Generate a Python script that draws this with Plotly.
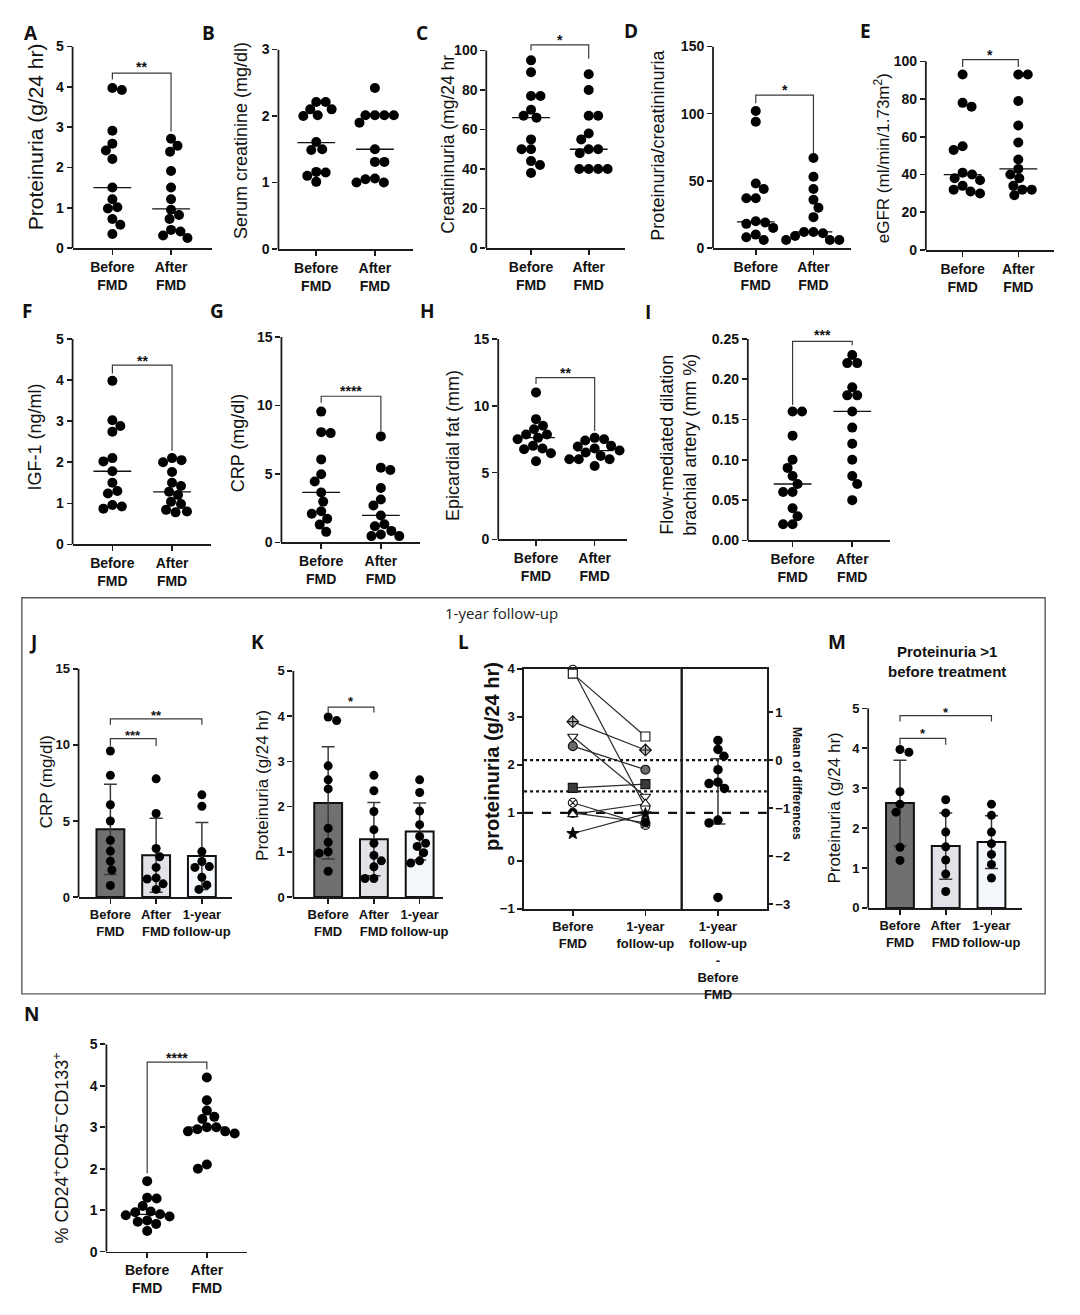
import plotly.graph_objects as go
import numpy as np

W, H = 1080, 1315

# ---------------------------------------------------------------- data
cats2 = ["Before<br>FMD", "After<br>FMD"]
cats3 = ["Before<br>FMD", "After<br>FMD", "1-year<br>follow-up"]
catsL = ["Before<br>FMD", "1-year<br>follow-up",
         "1-year<br>follow-up<br>-<br>Before<br>FMD"]

A_before = [3.92, 3.97, 2.91, 2.59, 2.42, 2.21, 1.5, 1.21, 1.01, 0.98, 0.72, 0.58, 0.35]
A_after = [2.71, 2.54, 2.39, 1.91, 1.5, 1.21, 0.95, 0.82, 0.72, 0.45, 0.41, 0.31, 0.25]
A_median = [1.5, 0.97]

B_before = [2.21, 2.21, 2.1, 2.1, 2.01, 2.0, 1.61, 1.49, 1.5, 1.15, 1.16, 1.1, 1.01]
B_after = [2.42, 2.01, 2.01, 2.01, 2.01, 1.9, 1.5, 1.31, 1.31, 1.0, 1.06, 1.0, 1.05]
B_median = [1.6, 1.5]

C_before = [95, 89, 77, 77, 70, 67, 66, 55, 50, 50, 44, 42, 38]
C_after = [88, 80, 67, 67, 58, 55, 50, 48, 50, 40, 40, 40, 40]
C_median = [66, 50]

D_before = [102, 94, 48, 44, 37, 37, 20, 19, 18, 15, 10, 8, 6]
D_after = [67, 53, 44, 36, 30, 23, 12, 12, 11, 9, 6, 6, 6]
D_median = [19.5, 12]

E_before = [93, 78, 76, 55, 53, 41, 40, 38, 37, 34, 32, 31, 30]
E_after = [93, 93, 79, 66, 57, 48, 43, 40, 38, 34, 32, 32, 29]
E_median = [40, 43]

F_before = [3.98, 3.02, 2.88, 2.74, 2.1, 2.02, 1.78, 1.5, 1.3, 1.24, 0.96, 0.92, 0.87]
F_after = [2.1, 2.05, 2.0, 1.76, 1.5, 1.42, 1.28, 1.2, 1.04, 0.98, 0.84, 0.8, 0.78]
F_median = [1.78, 1.28]

G_before = [9.55, 8.05, 7.98, 6.06, 4.98, 4.45, 3.65, 2.98, 2.28, 2.09, 1.73, 1.3, 0.77]
G_after = [7.74, 5.46, 5.29, 3.97, 3.13, 2.69, 1.97, 1.32, 1.18, 0.84, 0.58, 0.46, 0.46]
G_median = [3.65, 1.97]

H_before = [11.0, 9.0, 8.5, 8.25, 7.85, 7.85, 7.6, 7.5, 7.0, 6.8, 6.75, 6.45, 5.85]
H_after = [7.6, 7.5, 7.4, 7.0, 6.95, 6.8, 6.65, 6.5, 6.25, 6.0, 6.0, 6.0, 5.5]
H_median = [7.62, 6.64]

I_before = [0.16, 0.16, 0.13, 0.10, 0.09, 0.08, 0.07, 0.06, 0.06, 0.04, 0.03, 0.02, 0.02]
I_after = [0.23, 0.22, 0.22, 0.19, 0.18, 0.18, 0.16, 0.14, 0.12, 0.10, 0.08, 0.07, 0.05]
I_median = [0.07, 0.16]

N_before = [1.7, 1.3, 1.28, 1.1, 0.97, 0.95, 0.9, 0.88, 0.85, 0.75, 0.72, 0.67, 0.5]
N_after = [4.2, 3.65, 3.4, 3.25, 3.2, 3.0, 3.0, 2.95, 2.9, 2.9, 2.85, 2.1, 2.0]
N_median = [0.9, 3.0]

J_before = [9.6, 8.0, 6.07, 5.0, 3.73, 3.02, 2.36, 1.78, 0.76]
J_after = [7.77, 5.49, 3.19, 2.65, 1.95, 1.26, 1.19, 0.87, 0.5]
J_1yr = [6.72, 5.97, 2.99, 2.34, 2.0, 1.95, 1.3, 0.8, 0.5]
J_mean = [4.45, 2.75, 2.7]
J_sd = [2.97, 2.43, 2.2]

L_before = [3.98, 3.9, 2.9, 2.59, 2.39, 1.52, 1.21, 1.0, 0.97, 0.57]
L_1yr = [1.12, 2.59, 2.31, 1.34, 1.9, 1.6, 0.75, 0.8, 1.19, 0.98]
L_ref_mean = 2.1        # mean of "Before FMD" -> zero of the right axis
L_diff_mean = -0.65
L_diff_ci = 0.68
L_threshold = 1.0

K_before = L_before
K_after = [2.69, 2.35, 1.89, 1.49, 1.19, 0.92, 0.8, 0.67, 0.41, 0.41]
K_1yr = L_1yr
K_mean = [2.08, 1.28, 1.45]
K_sd = [1.24, 0.81, 0.63]

M_before = [3.97, 3.9, 2.91, 2.6, 2.4, 1.52, 1.19]
M_after = [2.71, 2.38, 1.9, 1.53, 1.2, 0.85, 0.41]
M_1yr = [2.6, 2.32, 1.9, 1.61, 1.34, 1.09, 0.75]
M_mean = [2.63, 1.55, 1.65]
M_sd = [1.07, 0.83, 0.66]

# significance brackets: (group0, group1, top, leg0 end, leg1 end, label, label y)
A_sig = [(0, 1, 4.34, 4.18, 2.89, "**", 4.57)]
C_sig = [(0, 1, 102.8, 100, 95.8, "*", 107)]
D_sig = [(0, 1, 113.8, 107.7, 70.8, "*", 120)]
E_sig = [(0, 1, 100.9, 97, 97, "*", 105)]
F_sig = [(0, 1, 4.36, 4.16, 2.28, "**", 4.54)]
G_sig = [(0, 1, 10.67, 10.2, 8.1, "****", 11.27)]
H_sig = [(0, 1, 12.1, 11.63, 8.11, "**", 12.7)]
I_sig = [(0, 1, 0.247, 0.168, 0.242, "***", 0.258)]
N_sig = [(0, 1, 4.57, 1.89, 4.39, "****", 4.75)]
J_sig = [(0, 1, 10.41, 9.93, 9.93, "***", 10.8), (0, 2, 11.71, 11.32, 11.32, "**", 12.15)]
K_sig = [(0, 1, 4.2, 4.08, 4.08, "*", 4.38)]
M_sig = [(0, 1, 4.25, 4.09, 4.09, "*", 4.45), (0, 2, 4.82, 4.67, 4.67, "*", 4.97)]

# ---------------------------------------------------------------- helpers
FONT = "Liberation Sans, Arial, sans-serif"
LFONT = "Open Sans, Liberation Sans, sans-serif"
AX = "#1c1c1c"
BAR_COLORS = ["#707070", "#e2e3e8", "#f4f7fc"]

fig = go.Figure()
lay = {}
shapes = []
annots = []


def fx(px):
    return px / W


def fy(py):
    return 1 - py / H


def ids(i):
    return ("x" if i == 1 else f"x{i}"), ("y" if i == 1 else f"y{i}")


def keyname(a, i):
    return a + ("axis" if i == 1 else f"axis{i}")


def swarm(vals, ppu, d):
    order = sorted(range(len(vals)), key=lambda k: -vals[k])
    placed = []
    offs = [0.0] * len(vals)
    side = 1
    for k in order:
        y = vals[k] * ppu
        chosen = None
        n = 0
        while chosen is None:
            cands = [0.0] if n == 0 else [side * n * 0.5, -side * n * 0.5]
            for x in cands:
                if all((x - px) ** 2 + (y - py) ** 2 >= d * d - 1e-6 for px, py in placed):
                    chosen = x
                    break
            n += 1
        if chosen > 0:
            side = -1
        elif chosen < 0:
            side = 1
        placed.append((chosen, y))
        offs[k] = chosen
    return offs


def setup(i, xl, xr, xc, y0, yT, T, R, ymin, ytick, xtext, fs, yfmt=None, yline=True):
    xs, ys = ids(i)
    sp = xc[1] - xc[0]
    ppu = (y0 - yT) / (T - ymin)
    top_px = y0 - (R - ymin) * ppu
    tf = dict(family=FONT, size=fs, color="#111", weight="bold")
    lay[keyname("x", i)] = dict(
        domain=[fx(xl), fx(xr)], range=[(xl - xc[0]) / sp, (xr - xc[0]) / sp],
        anchor=ys, tickvals=list(range(len(xtext))), ticktext=xtext, tickangle=0,
        showline=True, linewidth=1.8, linecolor=AX, ticks="outside", ticklen=5,
        tickwidth=1.6, tickcolor=AX, tickfont=tf, showgrid=False, zeroline=False,
        fixedrange=True)
    ya = dict(domain=[fy(y0), fy(top_px)], range=[ymin, R], anchor=xs,
              tickvals=ytick, ticks="outside", ticklen=5, tickwidth=1.6,
              tickcolor=AX, showline=False, showgrid=False, zeroline=False,
              tickfont=tf, fixedrange=True)
    if yfmt:
        ya["tickformat"] = yfmt
    lay[keyname("y", i)] = ya
    if yline:
        shapes.append(dict(type="line", xref=xs + " domain", yref=ys, x0=0, x1=0,
                           y0=ymin, y1=T, line=dict(color=AX, width=1.8)))
    return xs, ys, sp, ppu


def dots(xs, ys, g, vals, ppu, sp, d=9.0, size=9.5):
    offs = swarm(vals, ppu, d)
    fig.add_trace(go.Scatter(
        x=[g + o / sp for o in offs], y=vals, mode="markers",
        marker=dict(size=size, color="black"), xaxis=xs, yaxis=ys,
        cliponaxis=False, hoverinfo="skip", showlegend=False))


def median(xs, ys, g, m, hw):
    fig.add_trace(go.Scatter(x=[g - hw, g + hw], y=[m, m], mode="lines",
                             line=dict(color="#111", width=1.3), xaxis=xs, yaxis=ys,
                             hoverinfo="skip", showlegend=False))


def sig(xs, ys, items, fs=14):
    for g0, g1, top, l0, l1, lab, ly in items:
        shapes.append(dict(type="path", xref=xs, yref=ys,
                           path=f"M {g0},{l0} L {g0},{top} L {g1},{top} L {g1},{l1}",
                           line=dict(color="#3a3a3a", width=1.2)))
        annots.append(dict(x=(g0 + g1) / 2, y=ly, xref=xs, yref=ys, text=lab,
                           showarrow=False, yanchor="middle", yshift=-3,
                           font=dict(family=FONT, size=fs, color="#111", weight="bold")))


def ytitle(text, px, py, size, bold=False):
    annots.append(dict(x=fx(px), y=fy(py), xref="paper", yref="paper", text=text,
                       textangle=-90, showarrow=False, xanchor="center", yanchor="middle",
                       font=dict(family=FONT, size=size, color="#111",
                                 weight="bold" if bold else "normal")))


def letter(t, px, py):
    annots.append(dict(x=fx(px), y=fy(py), xref="paper", yref="paper", text=t,
                       showarrow=False, xanchor="center", yanchor="middle",
                       font=dict(family=LFONT, size=19, color="#111", weight="bold")))


# ---------------------------------------------------------------- scatter panels
scatter_panels = [
    # i, letter, letter pos, xl, xr, xc, y0, yT, T, R, yticks, fmt, data, medians, sig, title, title x, title y, title size, fs
    (1, "A", (31, 25), 73, 213, (113, 172), 243, 39, 5, 5, [0, 1, 2, 3, 4, 5], None,
     [A_before, A_after], A_median, A_sig, "Proteinuria (g/24 hr)", 36, 130, 21, 14),
    (2, "B", (210, 25), 280, 415, (318, 377), 244, 42, 3, 3, [0, 1, 2, 3], None,
     [B_before, B_after], B_median, [], "Serum creatinine (mg/dl)", 243, 134, 18, 14),
    (3, "C", (424, 25), 489, 628, (534, 592), 243, 43, 100, 110, [0, 20, 40, 60, 80, 100], None,
     [C_before, C_after], C_median, C_sig, "Creatininuria (mg/24 hr", 451, 138, 17.5, 14),
    (4, "D", (635, 23), 717, 856, (760, 818), 243, 39, 150, 150, [0, 50, 100, 150], None,
     [D_before, D_after], D_median, D_sig, "Proteinuria/creatininuria", 662, 139, 18, 14),
    (5, "E", (870, 23), 931, 1060, (968, 1024), 245, 54, 100, 108, [0, 20, 40, 60, 80, 100], None,
     [E_before, E_after], E_median, E_sig, "eGFR (ml/min/1.73m<sup>2</sup>)", 887, 152, 17, 14),
    (6, "F", (27, 307), 73, 212, (113, 173), 543, 335, 5, 5, [0, 1, 2, 3, 4, 5], None,
     [F_before, F_after], F_median, F_sig, "IGF-1 (ng/ml)", 35, 434, 18, 14),
    (7, "G", (218, 307), 283, 422, (323, 383), 541, 333, 15, 15, [0, 5, 10, 15], None,
     [G_before, G_after], G_median, G_sig, "CRP (mg/dl)", 239, 440, 18, 14),
    (8, "H", (430, 307), 501, 630, (539, 598), 538, 335, 15, 15, [0, 5, 10, 15], None,
     [H_before, H_after], H_median, H_sig, "Epicardial fat (mm)", 455, 443, 18, 14),
    (9, "I", (652, 308), 752, 895, (797, 857), 539, 335, 0.25, 0.262,
     [0, 0.05, 0.10, 0.15, 0.20, 0.25], ".2f",
     [I_before, I_after], I_median, I_sig,
     "Flow-mediated dilation<br>brachial artery (mm %)", 682, 442, 18, 14),
    (14, "N", (32, 1018), 107, 248, (148, 208), 1259, 1049, 5, 5, [0, 1, 2, 3, 4, 5], None,
     [N_before, N_after], N_median, N_sig,
     "% CD24<sup>+</sup>CD45<sup>\u2212</sup>CD133<sup>+</sup>", 62, 1154, 18, 14),
]

for (i, let, lpos, xl, xr, xc, y0, yT, T, R, yt, fmt, data, meds, sg, title,
     tx, ty, tsz, fs) in scatter_panels:
    xs, ys, sp, ppu = setup(i, xl, xr, xc, y0, yT, T, R, 0, yt, cats2, fs, fmt)
    for g, m in enumerate(meds):
        median(xs, ys, g, m, 19 / sp)
    for g, vals in enumerate(data):
        dots(xs, ys, g, vals, ppu, sp, d=9.5, size=10)
    sig(xs, ys, sg)
    ytitle(title, tx, ty, tsz)
    letter(let, *lpos)

# ---------------------------------------------------------------- bar panels
bar_panels = [
    (10, "J", (33, 642), 79, 233, (111, 157, 203), 900, 669, 15, 15, [0, 5, 10, 15],
     [J_before, J_after, J_1yr], J_mean, J_sd, J_sig, "CRP (mg/dl)", 47, 783),
    (11, "K", (259, 642), 295, 445, (330, 376, 422), 900, 671, 5, 5, [0, 1, 2, 3, 4, 5],
     [K_before, K_after, K_1yr], K_mean, K_sd, K_sig, "Proteinuria (g/24 hr)", 264, 787),
    (13, "M", (842, 642), 873, 1028, (905, 951, 997), 911, 709, 5, 5, [0, 1, 2, 3, 4, 5],
     [M_before, M_after, M_1yr], M_mean, M_sd, M_sig, "Proteinuria (g/24 hr)", 839, 810),
]

for (i, let, lpos, xl, xr, xc, y0, yT, T, R, yt, data, means, sds, sg, title,
     tx, ty) in bar_panels:
    xs, ys, sp, ppu = setup(i, xl, xr, xc, y0, yT, T, R, 0, yt, cats3, 13)
    fig.add_trace(go.Bar(
        x=[0, 1, 2], y=means, width=28 / sp, xaxis=xs, yaxis=ys,
        marker=dict(color=BAR_COLORS, line=dict(color="#111", width=2)),
        error_y=dict(type="data", array=sds, color="#3a3a3a", thickness=1.5, width=6.5),
        hoverinfo="skip", showlegend=False))
    for g, vals in enumerate(data):
        dots(xs, ys, g, vals, ppu, sp, d=9.0, size=9)
    sig(xs, ys, sg, fs=13)
    ytitle(title, tx, ty, 17)
    letter(let, *lpos)

# ---------------------------------------------------------------- panel L
iL = 12
xsL, ysL = ids(iL)
L_xl, L_xr, L_xc = 527, 771, (576, 649, 722)
L_y0, L_yT = 912, 669
spL = L_xc[1] - L_xc[0]
ppuL = (L_y0 - L_yT) / 5.0
tfL = dict(family=FONT, size=13, color="#111", weight="bold")
lay[keyname("x", iL)] = dict(
    domain=[fx(L_xl), fx(L_xr)], range=[(L_xl - L_xc[0]) / spL, (L_xr - L_xc[0]) / spL],
    anchor=ysL, tickvals=[0, 1, 2], ticktext=catsL, tickangle=0, showline=True, mirror=True,
    linewidth=1.8, linecolor=AX, ticks="outside", ticklen=5, tickwidth=1.6, tickcolor=AX,
    tickfont=tfL, showgrid=False, zeroline=False, fixedrange=True)
lay[keyname("y", iL)] = dict(
    domain=[fy(L_y0), fy(L_yT)], range=[-1, 4], anchor=xsL, tickvals=[-1, 0, 1, 2, 3, 4],
    ticks="outside", ticklen=5, tickwidth=1.6, tickcolor=AX, showline=True, mirror=True,
    linewidth=1.8, linecolor=AX, showgrid=False, zeroline=False, tickfont=tfL,
    fixedrange=True)
lay["yaxis15"] = dict(
    overlaying=ysL, side="right", anchor=xsL,
    range=[-1 - L_ref_mean, 4 - L_ref_mean], tickvals=[-3, -2, -1, 0, 1],
    ticks="outside", ticklen=5, tickwidth=1.6, tickcolor=AX, showline=False,
    showgrid=False, zeroline=False, tickfont=tfL, fixedrange=True)

# reference lines
shapes.append(dict(type="line", xref=xsL + " domain", yref="y15", x0=0, x1=1, y0=0, y1=0,
                   layer="below", line=dict(color="#111", width=2.2, dash="dot")))
shapes.append(dict(type="line", xref=xsL + " domain", yref="y15", x0=0, x1=1,
                   y0=L_diff_mean, y1=L_diff_mean, layer="below",
                   line=dict(color="#111", width=2.2, dash="dot")))
shapes.append(dict(type="line", xref=xsL + " domain", yref=ysL, x0=0, x1=1,
                   y0=L_threshold, y1=L_threshold, layer="below",
                   line=dict(color="#111", width=2.2, dash="dash")))
shapes.append(dict(type="line", xref=xsL, yref=ysL + " domain", x0=1.5, x1=1.5, y0=0, y1=1,
                   line=dict(color=AX, width=2.4)))

L_styles = [
    dict(symbol="circle", color="white"),
    dict(symbol="square", color="white"),
    dict(symbol="diamond-cross", color="#bdbdbd"),
    dict(symbol="triangle-down", color="white"),
    dict(symbol="circle", color="#6a6a6a"),
    dict(symbol="square", color="#3a3a3a"),
    dict(symbol="circle-x", color="white"),
    dict(symbol="circle", color="black"),
    dict(symbol="triangle-up", color="white"),
    dict(symbol="star", color="black"),
]
for k in range(len(L_before)):
    st = L_styles[k]
    fig.add_trace(go.Scatter(
        x=[0, 1], y=[L_before[k], L_1yr[k]], mode="lines+markers", xaxis=xsL, yaxis=ysL,
        line=dict(color="#2a2a2a", width=1.2),
        marker=dict(symbol=st["symbol"], size=9, color=st["color"],
                    line=dict(color="#111", width=1.1)),
        cliponaxis=False, hoverinfo="skip", showlegend=False))

L_diff = [round(a - b, 3) for a, b in zip(L_1yr, L_before)]
fig.add_trace(go.Scatter(
    x=[2], y=[L_diff_mean], mode="markers", xaxis=xsL, yaxis="y15",
    marker=dict(size=1, color="rgba(0,0,0,0)"),
    error_y=dict(type="data", array=[L_diff_ci], color="#3a3a3a", thickness=1.5, width=7.5),
    hoverinfo="skip", showlegend=False))
offL = swarm(L_diff, ppuL, 9.0)
fig.add_trace(go.Scatter(
    x=[2 + o / spL for o in offL], y=L_diff, mode="markers", xaxis=xsL, yaxis="y15",
    marker=dict(size=9.5, color="black"), cliponaxis=False, hoverinfo="skip",
    showlegend=False))

ytitle("proteinuria (g/24 hr)", 495, 758, 20, bold=True)
annots.append(dict(x=fx(801), y=fy(785), xref="paper", yref="paper", text="Mean of differences",
                   textangle=90, showarrow=False, xanchor="center", yanchor="middle",
                   font=dict(family=FONT, size=12, color="#111", weight="bold")))
letter("L", 466, 642)

# ---------------------------------------------------------------- frame / titles
shapes.append(dict(type="rect", xref="paper", yref="paper", x0=fx(22), x1=fx(1051),
                   y0=fy(998), y1=fy(597), line=dict(color="#5a5a5a", width=1.4),
                   layer="below"))
annots.append(dict(x=fx(504), y=fy(612), xref="paper", yref="paper", text="1-year follow-up",
                   showarrow=False, xanchor="center", yanchor="middle",
                   font=dict(family=LFONT, size=15, color="#222")))
annots.append(dict(x=fx(952), y=fy(662), xref="paper", yref="paper",
                   text="Proteinuria >1<br>before treatment",
                   showarrow=False, xanchor="center", yanchor="middle",
                   font=dict(family=FONT, size=15, color="#111", weight="bold")))

fig.update_layout(
    width=W, height=H, margin=dict(l=0, r=0, t=0, b=0, pad=0),
    paper_bgcolor="white", plot_bgcolor="white", showlegend=False,
    shapes=shapes, annotations=annots, bargap=0, **lay)

fig.write_html(
    "out.html",
    config={"displayModeBar": False, "staticPlot": True},
    post_script=(
        "document.documentElement.style.margin='0';"
        "document.documentElement.style.overflow='hidden';"
        "document.body.style.margin='0';"
        "document.body.style.overflow='hidden';"
        "var gd=document.getElementById('{plot_id}');"
        "gd.style.position='fixed';gd.style.left='0px';gd.style.top='0px';"
    ))
